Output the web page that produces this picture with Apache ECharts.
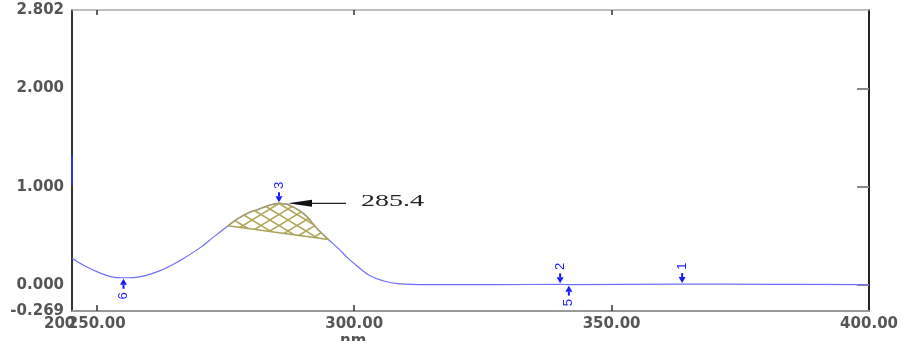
<!DOCTYPE html>
<html>
<head>
<meta charset="utf-8">
<script src="https://cdn.jsdelivr.net/npm/echarts@6/dist/echarts.min.js"></script>
<style>html,body{margin:0;padding:0;background:#fff}#c{width:901px;height:341px}</style>
</head>
<body>
<div id="c"></div>
<script>
// ---- data ----
const wavelength = [245.2, 247.7, 250.6, 252.9, 255.2, 258.3, 262.2, 266.0, 269.9, 272.8, 275.5, 277.0, 278.6, 280.0, 281.5, 283.5, 285.4, 287.0, 288.2, 289.8, 291.1, 292.0, 293.0, 294.0, 295.0, 296.9, 298.8, 300.8, 303.1, 305.6, 308.5, 314.3, 327.8, 340.0, 341.7, 363.7, 380.0, 400.0];
const absorbance = [0.27, 0.19, 0.12, 0.08, 0.07, 0.08, 0.14, 0.24, 0.37, 0.49, 0.60, 0.66, 0.71, 0.745, 0.77, 0.81, 0.83, 0.82, 0.79, 0.74, 0.68, 0.62, 0.56, 0.51, 0.46, 0.37, 0.27, 0.18, 0.09, 0.04, 0.01, 0.00, 0.00, 0.003, 0.00, 0.006, 0.003, 0.00];
const edgeNm = [245.2, 245.2];
const edgeAbs = [1.32, 1.01];
const peakAreaFrom = 275.5, peakAreaTo = 295.0;
const markerNo = ['1', '2', '3', '5', '6'];
const markerNm = [363.7, 340.0, 285.4, 341.7, 255.2];
const markerAbs = [0.006, 0.003, 0.83, 0.0, 0.07];
const markerDir = ['down', 'down', 'down', 'up', 'up'];
const peakLabel = '285.4';
const peakNm = 285.4, peakAbs = 0.83;
const xMin = 245.2, xMax = 400;
const yMin = -0.269, yMax = 2.802;
const xLabelValues = [250, 300, 350, 400];
const xTickValues = [250, 300, 350];
const yLabelValues = [-0.269, 0, 1, 2, 2.802];
const yTickValues = [0, 1, 2];
const firstXLabel = '200';
const xName = 'nm';

// ---- build ----
const curve = wavelength.map((w, i) => [w, absorbance[i]]);
const areaPts = curve.filter(p => p[0] >= peakAreaFrom && p[0] <= peakAreaTo);
const edge = edgeNm.map((w, i) => [w, edgeAbs[i]]);
const markers = markerNm.map((w, i) => [w, markerAbs[i], i]);

const pat = document.createElement('canvas');
pat.width = 18; pat.height = 11;
const g = pat.getContext('2d');
g.strokeStyle = '#b0a75c'; g.lineWidth = 1.5;
g.beginPath(); g.moveTo(0, 0); g.lineTo(18, 11); g.moveTo(18, 0); g.lineTo(0, 11); g.stroke();

const labelFont = { fontFamily: 'DejaVu Sans', fontWeight: 'bold', fontSize: 15, color: '#555' };
const chart = echarts.init(document.getElementById('c'), null, { renderer: 'canvas' });
chart.setOption({
  animation: false,
  grid: { left: 72, right: 30, top: 10, bottom: 30, containLabel: false },
  xAxis: [{
    type: 'value', min: xMin, max: xMax, position: 'bottom',
    axisLine: { show: true, onZero: false, lineStyle: { color: '#999', width: 2 } },
    axisTick: { show: true, inside: true, length: 6, customValues: xTickValues, lineStyle: { color: '#333', width: 1.5 } },
    splitLine: { show: false },
    axisLabel: Object.assign({ customValues: xLabelValues, margin: 6, formatter: v => v.toFixed(2) }, labelFont)
  }, {
    type: 'value', min: xMin, max: xMax, position: 'top',
    axisLine: { show: true, onZero: false, lineStyle: { color: '#aaa', width: 1.5 } },
    axisTick: { show: true, inside: true, length: 5, customValues: xTickValues, lineStyle: { color: '#333', width: 1.5 } },
    axisLabel: { show: false }, splitLine: { show: false }
  }],
  yAxis: [{
    type: 'value', min: yMin, max: yMax, position: 'left',
    axisLine: { show: true, onZero: false, lineStyle: { color: '#333', width: 2 } },
    axisTick: { show: false },
    splitLine: { show: false },
    axisLabel: Object.assign({ customValues: yLabelValues, margin: 8, formatter: v => v.toFixed(3) }, labelFont)
  }, {
    type: 'value', min: yMin, max: yMax, position: 'right',
    axisLine: { show: true, onZero: false, lineStyle: { color: '#222', width: 2 } },
    axisTick: { show: true, inside: true, length: 12, customValues: yTickValues, lineStyle: { color: '#888', width: 2 } },
    axisLabel: { show: false }, splitLine: { show: false }
  }],
  graphic: [{
    type: 'text', left: 340, top: 334,
    style: { text: xName, font: 'bold 15px "DejaVu Sans"', fill: '#555' }
  }, {
    type: 'text', left: 44, top: 317,
    style: { text: firstXLabel, font: 'bold 15px "DejaVu Sans"', fill: '#555' }
  }],
  series: [{
    type: 'line', data: curve, showSymbol: false, smooth: 0.4,
    lineStyle: { color: '#6f6fff', width: 1.2 }, z: 2
  }, {
    type: 'line', data: edge, showSymbol: false,
    lineStyle: { color: '#3030e0', width: 2 }, z: 4
  }, {
    type: 'custom', z: 3,
    data: [0],
    renderItem: (params, api) => {
      const pts = areaPts.map(p => api.coord(p));
      return {
        type: 'polygon',
        shape: { points: pts },
        style: { fill: { image: pat, repeat: 'repeat' }, stroke: '#aaa25a', lineWidth: 1.5, lineJoin: 'round' }
      };
    }
  }, {
    type: 'custom', z: 5, data: markers,
    renderItem: (params, api) => {
      const i = api.value(2);
      const p = api.coord([api.value(0), api.value(1)]);
      const down = markerDir[i] === 'down';
      const s = down ? -1 : 1;
      const tip = p[1] + s * 1, tail = p[1] + s * 11, lab = p[1] + s * 18;
      const head = tip + s * 6;
      const col = '#1a1aff';
      return {
        type: 'group', children: [
          { type: 'line', shape: { x1: p[0], y1: tail, x2: p[0], y2: head }, style: { stroke: col, lineWidth: 2 } },
          { type: 'polygon', shape: { points: [[p[0], tip], [p[0] - 3.5, head], [p[0] + 3.5, head]] }, style: { fill: col } },
          { type: 'text', x: p[0], y: lab, rotation: Math.PI / 2,
            style: { text: markerNo[i], fill: col, font: '13px "Liberation Sans"', align: 'center', verticalAlign: 'middle' } }
        ]
      };
    }
  }, {
    type: 'custom', z: 6, data: [[peakNm, peakAbs]],
    renderItem: (params, api) => {
      const p = api.coord([api.value(0), api.value(1)]);
      const x0 = p[0] + 9, y = p[1];
      return {
        type: 'group', children: [
          { type: 'line', shape: { x1: x0 + 20, y1: y, x2: x0 + 58, y2: y }, style: { stroke: '#222', lineWidth: 1.3 } },
          { type: 'polygon', shape: { points: [[x0, y], [x0 + 24, y - 3.5], [x0 + 24, y + 3.5]] }, style: { fill: '#111' } },
          { type: 'text', x: x0 + 73, y: y - 1, scaleX: 1.75,
            style: { text: peakLabel, fill: '#222', font: '16px "Liberation Serif"', align: 'left', verticalAlign: 'middle' } }
        ]
      };
    }
  }]
});
</script>
</body>
</html>
